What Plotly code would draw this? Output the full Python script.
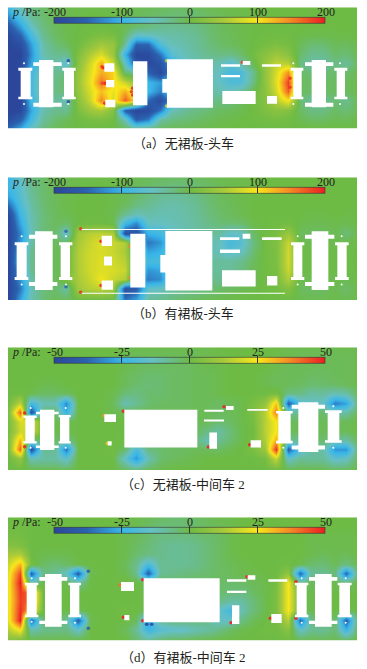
import plotly.graph_objects as go

W, H = 367, 669
grid_x = [24,59,94,129,164,199,234,269,304,339,374,409,444,479,514,549,584,619,654,689,724,759,794,829,864,899,934,969,1004,1039,1074]
grid_y_a = [22,50,78,106,134,162,190,218,246,274,302,330,358,386]
grid_y = [22,50,78,106,134,162,190,218,246,274,302,330,358,392]

p_a = [
[-90,-45,-25,-14,-8,-5,-3,-2,-2,-3,-4,-6,-8,-10,-12,-12,-10,-8,-5,-3,-2,0,0,0,0,0,0,0,0,0,0],
[-125,-75,-32,-16,-8,-4,-2,0,0,-2,-4,-8,-12,-16,-20,-20,-18,-14,-8,-5,-3,-2,0,0,0,0,0,0,0,0,0],
[-170,-115,-55,-22,-10,-4,0,2,2,0,-6,-14,-22,-30,-32,-30,-26,-18,-10,-6,-3,-1,0,0,0,0,0,0,0,0,0],
[-195,-155,-85,-30,-12,-4,0,8,14,10,-14,-60,-55,-45,-42,-38,-32,-22,-12,-8,-4,0,2,4,2,-2,-4,-4,-2,-2,0],
[-200,-185,-115,-42,-20,-10,4,25,45,35,-35,-155,-150,-75,-50,-45,-35,-25,-15,-10,-5,0,8,14,8,-8,-18,-18,-8,-10,-2],
[-200,-200,-125,-45,-30,-30,15,55,80,40,-100,-195,-190,-140,-70,-50,-40,-30,-25,-25,-15,5,25,40,25,-15,-30,-30,-15,-20,-5],
[-200,-195,-110,-60,-40,-70,25,75,130,70,-60,-170,-195,-175,-110,-60,-50,-40,-45,-70,-40,-5,35,65,60,-25,-40,-40,-25,-35,-8],
[-200,-200,-90,-40,-30,-25,35,85,130,110,-20,-30,-155,-195,-120,-60,-50,-40,-55,-85,-80,-30,30,80,145,-12,-20,-20,-15,-15,-5],
[-200,-200,-85,-30,-25,-15,40,90,160,110,70,30,-95,-115,-60,-55,-50,-40,-55,-75,-75,-25,30,85,185,-8,-15,-15,-10,-10,-3],
[-200,-200,-85,-30,-25,-20,35,80,120,90,130,60,-95,-130,-80,-55,-50,-40,-45,-50,-35,-5,25,75,170,-8,-15,-15,-10,-10,-3],
[-200,-200,-90,-50,-35,-50,25,70,150,80,170,100,-150,-190,-120,-60,-45,-30,-25,-25,-10,5,20,60,100,-20,-35,-35,-18,-30,-5],
[-200,-195,-110,-45,-30,-30,12,40,50,20,-160,-200,-190,-140,-50,-35,-25,-20,-12,-8,-5,2,15,25,20,-12,-25,-25,-12,-20,-5],
[-190,-160,-90,-35,-18,-8,2,10,12,5,-50,-160,-135,-40,-25,-20,-15,-10,-5,-3,0,2,5,8,4,-5,-12,-12,-6,-8,0],
[-150,-110,-55,-22,-10,-3,0,0,0,0,-10,-35,-25,-12,-8,-8,-6,-4,-2,0,0,0,0,0,0,0,0,0,0,0,0],
]
p_b = [
[-100,-55,-25,-14,-8,-5,-3,-2,-2,-2,-4,-6,-8,-10,-12,-12,-10,-8,-5,-3,-2,0,0,0,0,0,0,0,0,0,0],
[-95,-65,-30,-15,-8,-4,-2,0,0,-2,-4,-8,-14,-18,-22,-22,-18,-14,-8,-5,-3,-2,0,0,0,0,0,0,0,0,0],
[-110,-70,-35,-16,-8,-3,0,0,0,-2,-6,-14,-24,-32,-36,-34,-28,-18,-10,-6,-3,-1,0,0,0,0,0,0,0,0,0],
[-150,-80,-40,-18,-8,-3,0,0,0,-3,-10,-24,-32,-40,-44,-40,-32,-22,-12,-8,-4,0,0,0,0,0,0,0,0,0,0],
[-190,-95,-45,-20,-10,-5,0,0,0,-4,-30,-50,-42,-48,-46,-42,-35,-25,-15,-10,-5,0,0,0,0,0,-2,-2,0,-2,0],
[-200,-110,-45,-20,-10,-15,0,2,2,-2,-90,-130,-55,-55,-50,-45,-38,-28,-20,-18,-15,-3,0,3,6,-3,-6,-6,-3,-6,0],
[-200,-130,-50,-20,-15,-60,45,60,65,55,-180,-175,-100,-90,-60,-50,-40,-35,-35,-60,-55,-12,3,10,40,-10,-12,-12,-5,-20,-2],
[-200,-120,-40,-15,-10,-15,50,70,85,70,55,-60,-140,-120,-70,-50,-40,-40,-50,-85,-70,-25,5,15,70,-3,-5,-5,-3,-5,0],
[-200,-100,-30,-12,-8,-5,55,75,80,70,50,-40,-110,-100,-60,-50,-40,-40,-50,-70,-55,-18,5,12,75,0,-3,-3,-2,-2,0],
[-200,-90,-30,-12,-8,-5,55,75,85,75,60,-30,-85,-80,-50,-45,-40,-38,-35,-35,-28,-10,5,12,75,0,-3,-3,-2,-2,0],
[-200,-110,-30,-12,-8,-5,55,75,85,80,70,-40,-120,-110,-60,-40,-35,-30,-35,-35,-25,-8,4,10,70,0,-3,-3,-2,-3,0],
[-200,-120,-40,-15,-10,15,50,70,95,70,55,-70,-135,-125,-50,-40,-35,-30,-30,-30,-20,-6,3,8,55,-5,-6,-6,-3,-5,0],
[-200,-140,-50,-20,-15,-40,45,60,65,50,-180,-160,-60,-55,-40,-32,-28,-22,-15,-10,-6,-2,2,5,20,-10,-12,-12,-5,-15,-2],
[-200,-110,-45,-20,-8,-8,-2,0,0,-3,-140,-110,-35,-25,-20,-15,-10,-6,-4,-2,0,0,0,0,0,-3,-5,-5,-2,-5,0],
]
p_c = [
[0,0,0,0,0,0,0,0,0,0,-1,-1,-1,-1,-1,-1,-1,-1,0,0,0,0,0,0,-1,-1,-1,-1,-1,-1,-1],
[0,0,0,0,0,0,0,0,0,0,-1,-2,-2,-2,-2,-2,-2,-1,-1,0,0,0,0,-1,-1,-2,-2,-2,-2,-2,-1],
[0,0,0,0,0,0,0,0,0,0,-1,-2,-3,-3,-3,-3,-2,-1,-1,0,0,0,0,-1,-2,-2,-2,-2,-2,-2,-1],
[0,0,0,0,0,0,0,0,0,0,-2,-3,-4,-4,-3,-3,-2,-2,-1,0,0,0,-1,-2,-2,-2,-3,-3,-2,-2,-1],
[0,0,0,-1,-1,0,0,0,0,0,-2,-4,-5,-4,-3,-3,-2,-2,-1,0,0,0,-1,-2,-2,-3,-4,-4,-3,-2,-1],
[0,1,-1,-3,-3,-2,0,0,0,-1,-5,-6,-4,-4,-3,-3,-2,-2,-1,0,0,0,1,2,-6,-6,-10,-9,-12,-10,-2],
[1,16,-22,-12,-12,-32,0,0,0,-2,-12,-8,-4,-3,-3,-3,-2,-2,-3,-2,-1,3,8,30,-40,-18,-14,-14,-34,-28,-3],
[3,42,-45,-4,-3,-25,0,0,0,-1,-1,-2,-2,-2,-2,-2,-2,-2,-3,-2,-1,3,15,38,-8,-8,-4,-4,-10,-10,-1],
[2,20,22,-1,-1,-1,0,0,0,0,0,-1,-1,-1,-2,-2,-2,-2,-4,-3,-1,2,15,25,-2,-2,-2,-2,-1,-2,0],
[2,18,20,-1,-1,-1,0,0,0,0,0,-1,-1,-1,-2,-2,-2,-6,-10,-5,-1,1,15,25,-2,-2,-2,-2,-1,-2,0],
[3,32,-8,-3,-3,-8,0,0,0,0,1,-1,-2,-2,-2,-3,-4,-12,-8,-4,-1,2,14,32,-8,-8,-4,-4,-10,-10,-1],
[2,42,-45,-8,-8,-35,0,0,0,1,-4,-20,-6,-4,-3,-3,-2,-2,-3,-1,0,3,10,48,-40,-18,-10,-10,-30,-30,-3],
[0,8,-12,-10,-10,-16,0,0,0,0,-15,-30,-12,-4,-3,-2,-1,0,0,0,0,0,2,18,-15,-8,-9,-9,-16,-14,-2],
[0,0,0,-1,-1,-1,0,0,0,0,-2,-4,-2,-1,0,0,0,0,0,0,0,0,0,0,0,-1,-1,-1,-2,-2,0],
]
p_d = [
[0,0,0,0,0,0,0,0,0,0,0,-1,-2,-3,-4,-4,-3,-2,-1,-1,0,0,0,0,0,0,0,0,0,0,0],
[1,1,0,0,0,0,0,0,0,0,-1,-1,-3,-5,-5,-5,-4,-3,-2,-1,0,0,0,0,0,0,0,0,0,0,0],
[2,2,0,0,0,0,0,0,0,0,-1,-2,-4,-6,-6,-6,-5,-4,-3,-1,0,0,0,0,0,0,-1,-1,-1,-1,0],
[5,4,0,0,0,0,0,0,0,0,-1,-3,-5,-7,-8,-8,-7,-5,-3,-1,0,0,0,0,0,0,-1,-1,-1,-1,0],
[12,14,0,-1,-1,-1,0,0,0,0,-1,-4,-6,-7,-8,-8,-7,-5,-3,-1,0,0,0,0,0,0,-1,-2,-1,-2,0],
[18,32,2,-3,-5,-3,-1,0,0,0,-2,-7,-20,-8,-8,-8,-7,-5,-3,-2,-1,0,0,0,1,-1,-4,-5,-2,-6,-1],
[22,45,-40,-6,-8,-14,-40,-1,0,0,-1,-7,-40,-8,-7,-6,-5,-4,-3,-2,-1,-1,0,0,8,-38,-8,-8,-5,-38,-1],
[23,50,-12,-1,-1,-1,-10,0,0,0,1,0,-3,-3,-3,-3,-3,-3,-3,-4,-3,-2,-1,2,25,-8,-2,-2,-1,-5,0],
[23,47,40,0,0,0,0,0,0,0,0,0,-1,-2,-2,-2,-2,-2,-4,-5,-6,-3,-1,3,25,0,-1,-1,0,0,0],
[23,46,40,0,0,0,0,0,0,0,0,0,-1,-2,-2,-2,-2,-3,-6,-10,-10,-5,-1,3,25,0,-1,-1,0,0,0],
[23,48,30,0,-1,0,-1,0,0,0,1,0,-2,-2,-2,-2,-3,-5,-14,-22,-12,-5,-1,3,25,-1,-1,-1,0,-1,0],
[22,50,-40,-4,-4,-8,-40,-1,0,0,0,-2,-30,-8,-5,-5,-5,-7,-14,-14,-6,-2,0,2,15,-38,-6,-6,-4,-40,-1],
[15,26,-12,-7,-7,-6,-15,0,0,0,-2,-8,-24,-18,-16,-15,-12,-10,-7,-3,-1,0,1,1,6,-15,-8,-8,-5,-25,-1],
[5,3,0,-1,-1,-1,0,0,0,0,0,-4,-8,-4,-2,-2,-1,-1,0,0,0,0,0,0,1,-1,-1,-2,-1,-2,0],
]

# body outlines: x0, x1, y0, y1 on the section plane
solid_a = [(62,92,205,295),(55,97,203,212),(55,97,290,298),(117,160,180,322),(100,185,187,198),(100,185,308,320),
 (192,222,205,295),(187,227,203,212),(187,227,290,298),(313,343,190,215),(318,343,240,262),(316,346,299,322),
 (399,442,184,316),(487,501,237,278),(501,639,178,323),(663,720,193,200),(663,720,225,232),(728,751,183,195),
 (786,843,193,200),(667,767,273,312),(801,831,288,311),(880,905,205,295),(872,910,203,212),(872,910,290,298),
 (935,978,180,322),(915,1000,187,198),(915,1000,308,320),(1010,1035,205,295),(1003,1042,203,212),(1003,1042,290,298)]
solid_b = [(50,80,222,325),(44,85,218,227),(44,85,323,332),(105,158,185,362),(87,172,195,207),(87,172,338,350),
 (182,210,222,325),(177,217,218,227),(177,217,323,332),(305,336,198,229),(312,336,261,288),(305,339,333,361),
 (391,436,192,354),(481,497,256,309),(496,637,184,363),(660,718,203,211),(660,720,240,250),(728,751,192,207),
 (786,845,203,211),(666,767,302,351),(801,832,320,348),(880,907,222,325),(873,913,218,227),(873,913,323,332),
 (935,985,185,362),(915,1003,195,207),(915,1003,338,350),(1012,1040,222,325),(1005,1046,218,227),(1005,1046,323,332),
 (245,855,178,181),(245,855,370,373)]
solid_c = [(76,104,232,308),(70,110,228,235),(70,110,305,312),(120,163,210,332),(108,176,216,224),(108,176,318,326),
 (180,208,230,310),(176,212,226,233),(176,212,305,312),(313,348,224,247),(323,335,305,318),(373,592,210,324),
 (613,671,210,216),(612,672,240,246),(678,701,199,211),(628,651,279,328),(742,803,208,213),(752,783,302,324),
 (835,872,218,306),(828,878,214,222),(828,878,304,312),(895,955,188,338),(875,975,195,207),(875,975,318,330),
 (983,1018,215,305),(975,1025,212,220),(975,1025,302,310)]
solid_d = [(80,110,222,318),(75,115,218,226),(75,115,314,322),(135,185,192,350),(118,202,201,212),(118,202,332,342),
 (210,238,222,318),(205,243,218,226),(205,243,314,322),(363,402,216,243),(373,388,315,331),(431,659,205,337),
 (681,739,208,215),(681,739,242,249),(743,766,196,209),(696,718,286,342),(805,862,208,215),(814,845,312,339),
 (890,920,222,318),(885,925,218,226),(885,925,314,322),(945,995,192,350),(927,1012,201,212),(927,1012,332,342),
 (1018,1050,222,318),(1013,1055,218,226),(1013,1055,314,322),(270,862,184,186),(270,862,354,356)]

# local pressure peaks hugging the bodies: x, y, p
spot_a = [(310,203,200),(306,200,190),(314,250,200),(307,250,180),(314,310,200),(398,265,200),(398,285,200),(394,275,190),
 (727,187,190),(870,235,190),(870,262,190),(205,182,-190),(205,305,-190),(500,182,70),(500,318,80)]
spot_b = [(303,215,200),(303,348,200),(242,177,190),(242,369,190),(390,230,150),(390,325,150),(198,185,-150),(198,352,-150)]
spot_c = [(74,220,50),(74,322,50),(370,215,50),(672,201,50),(625,323,50),(749,316,50),(312,228,35),(322,311,30)]
spot_d = [(428,209,50),(428,332,50),(360,225,40),(370,322,50),(741,200,50),(693,338,50),(811,325,50),(888,215,50),(888,325,50),
 (265,184,-40),(265,355,-40),(440,343,-50),(455,343,-50)]

# small clear gaps
hole_a = [(72,190),(72,312),(205,190),(205,312),(880,190),(880,312),(1020,190),(1020,312)]
hole_b = [(65,200),(65,345),(198,200),(198,345),(893,200),(893,345),(1025,200),(1025,345)]
hole_c = [(92,205),(92,325),(197,205),(197,325),(850,205),(850,325),(1000,200),(1000,325)]
hole_d = [(95,205),(95,335),(225,205),(225,338),(905,205),(905,338),(1037,205),(1037,338)]

tick_ab = [-200,-100,0,100,200]
tick_cd = [-50,-25,0,25,50]
captions = ["（a）无裙板-头车","（b）有裙板-头车","（c）无裙板-中间车 2","（d）有裙板-中间车 2"]
caption_y = [143,313,484,657]

colors = [[0,"#2b469b"],[0.12,"#2b62b0"],[0.25,"#38b6ea"],[0.36,"#66c0c4"],[0.43,"#6abc8c"],[0.5,"#6dbb45"],
          [0.62,"#a5c93c"],[0.75,"#f8e71b"],[0.87,"#f58a25"],[1,"#ed1c24"]]

panels = [
 dict(z=p_a,ys=grid_y_a,solid=solid_a,spot=spot_a,hole=hole_a,ticks=tick_ab,top=7.3,bot=128.7,yr=(22,386)),
 dict(z=p_b,ys=grid_y,solid=solid_b,spot=spot_b,hole=hole_b,ticks=tick_ab,top=177.3,bot=300,yr=(22,392)),
 dict(z=p_c,ys=grid_y,solid=solid_c,spot=spot_c,hole=hole_c,ticks=tick_cd,top=347.3,bot=470,yr=(22,392)),
 dict(z=p_d,ys=grid_y,solid=solid_d,spot=spot_d,hole=hole_d,ticks=tick_cd,top=517.3,bot=640.7,yr=(22,392)),
]

FONT = "Liberation Serif, Noto Sans CJK SC"
INK = "#231f20"
BAR_L, BAR_R = 54, 325
fig = go.Figure()
layout = dict(width=W,height=H,margin=dict(l=0,r=0,t=0,b=0),paper_bgcolor="white",plot_bgcolor="white",showlegend=False,
              font=dict(family=FONT,size=12,color=INK),annotations=[])
for i,P in enumerate(panels):
    n = "" if i==0 else str(i+1)
    ax = dict(showgrid=False,zeroline=False,showticklabels=False,ticks="",fixedrange=True)
    layout["xaxis"+n] = dict(ax,domain=[8/W,357/W],range=[24,1071],anchor="y"+n)
    layout["yaxis"+n] = dict(ax,domain=[1-P["bot"]/H,1-P["top"]/H],range=[P["yr"][1],P["yr"][0]],anchor="x"+n)
    t = P["ticks"]
    layout["coloraxis"+n] = dict(cmin=t[0],cmax=t[-1],colorscale=colors,
        colorbar=dict(orientation="h",x=(BAR_L+BAR_R)/2/W,xanchor="center",y=1-(P["top"]+17)/H,yanchor="middle",
                      lenmode="pixels",len=BAR_R-BAR_L,thicknessmode="pixels",thickness=6,
                      tickmode="array",tickvals=t,showticklabels=False,
                      ticks="inside",ticklen=7,tickcolor="#333",tickwidth=0.7,
                      outlinewidth=0.6,outlinecolor="#333",xpad=0,ypad=0,bgcolor="rgba(0,0,0,0)"))
    fig.add_trace(go.Heatmap(x=grid_x,y=P["ys"],z=P["z"],zsmooth="best",coloraxis="coloraxis"+n,
                             xaxis="x"+n,yaxis="y"+n,hoverinfo="skip"))
    fig.add_trace(go.Scatter(x=[s[0] for s in P["spot"]],y=[s[1] for s in P["spot"]],mode="markers",
                             marker=dict(size=3.5,opacity=0.85,color=[s[2] for s in P["spot"]],coloraxis="coloraxis"+n,line=dict(width=0)),
                             xaxis="x"+n,yaxis="y"+n,hoverinfo="skip"))
    xs,ys = [],[]
    for x0,x1,y0,y1 in P["solid"]:
        xs += [x0,x1,x1,x0,x0,None]
        ys += [y0,y0,y1,y1,y0,None]
    fig.add_trace(go.Scatter(x=xs,y=ys,mode="lines",fill="toself",fillcolor="white",line=dict(width=0,color="white"),
                             xaxis="x"+n,yaxis="y"+n,hoverinfo="skip"))
    fig.add_trace(go.Scatter(x=[h[0] for h in P["hole"]],y=[h[1] for h in P["hole"]],mode="markers",
                             marker=dict(size=2,color="white"),xaxis="x"+n,yaxis="y"+n,hoverinfo="skip"))
    layout["annotations"].append(dict(text="<i>p</i> /Pa:",xref="paper",yref="paper",x=10/W,y=1-(P["top"]+4.7)/H,
        xanchor="left",yanchor="middle",showarrow=False,font=dict(family=FONT,size=12,color=INK)))
    for v in t:
        frac = (v-t[0])/(t[-1]-t[0])
        layout["annotations"].append(dict(text=str(v),xref="paper",yref="paper",
            x=(BAR_L+frac*(BAR_R-BAR_L))/W+0.5/W,y=1-(P["top"]+4.7)/H,xanchor="center",yanchor="middle",showarrow=False,
            font=dict(family=FONT,size=12,color=INK)))
    layout["annotations"].append(dict(text=captions[i],xref="paper",yref="paper",x=183/W,y=1-caption_y[i]/H,
        xanchor="center",yanchor="middle",showarrow=False,font=dict(family=FONT,size=13,color=INK)))
fig.update_layout(**layout)
fig.write_html("out.html",post_script="document.body.style.margin='0';",config={"displayModeBar":False})
